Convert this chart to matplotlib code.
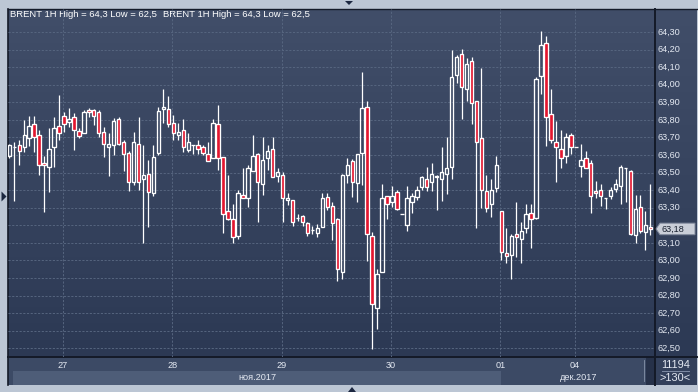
import matplotlib
matplotlib.use('Agg')
import matplotlib.pyplot as plt
import numpy as np
from matplotlib import font_manager
from matplotlib.patches import Rectangle, Polygon
from matplotlib.collections import LineCollection
from matplotlib.colors import LinearSegmentedColormap

# ---------------- data ----------------
opens = [63.594, 63.646, 63.657, 63.646, 63.695, 63.776, 63.714, 63.553, 63.530, 63.644,
         63.765, 63.822, 63.790, 63.814, 63.737, 63.723, 63.856, 63.854, 63.843, 63.733,
         63.644, 63.657, 63.803, 63.672, 63.610, 63.448, 63.661, 63.462, 63.492, 63.382,
         63.610, 63.860, 63.862, 63.780, 63.714, 63.742, 63.629, 63.657, 63.657, 63.644,
         63.606, 63.581, 63.777, 63.591, 63.281, 63.236, 63.141, 63.373, 63.354, 63.511,
         63.606, 63.433, 63.581, 63.632, 63.483, 63.486, 63.344, 63.344, 63.244, 63.253,
         63.211, 63.173, 63.158, 63.192, 63.359, 63.310, 63.234, 62.933, 63.486, 63.566,
         63.443, 63.610, 63.872, 63.141, 62.731, 62.933, 63.369, 63.331, 63.392, 63.263,
         63.202, 63.331, 63.360, 63.420, 63.462, 63.445, 63.483, 63.462, 63.490, 63.530,
         64.055, 64.174, 63.973, 64.135, 63.907, 63.695, 63.396, 63.321, 63.411, 63.281,
         63.044, 63.031, 63.151, 63.120, 63.183, 63.272, 63.240, 64.050, 64.235, 63.831,
         63.672, 63.632, 63.594, 63.714, 63.643, 63.539, 63.581, 63.552, 63.395, 63.399,
         63.357, 63.368, 63.408, 63.424, 63.524, 63.510, 63.145, 63.302, 63.160, 63.192]
highs = [63.665, 63.672, 63.684, 63.797, 63.822, 63.822, 63.742, 63.594, 63.756, 63.818,
         63.942, 63.847, 63.866, 63.837, 63.752, 63.856, 63.866, 63.860, 63.856, 63.761,
         63.723, 63.809, 63.818, 63.686, 63.623, 63.729, 63.818, 63.657, 63.572, 63.657,
         63.871, 63.974, 63.936, 63.830, 63.780, 63.803, 63.727, 63.657, 63.686, 63.657,
         63.676, 63.803, 63.885, 63.591, 63.486, 63.321, 63.401, 63.524, 63.543, 63.714,
         63.613, 63.704, 63.657, 63.704, 63.524, 63.505, 63.382, 63.344, 63.264, 63.259,
         63.221, 63.198, 63.208, 63.382, 63.382, 63.335, 63.240, 63.490, 63.581, 63.576,
         63.604, 64.071, 63.908, 63.160, 62.950, 63.435, 63.369, 63.424, 63.401, 63.263,
         63.424, 63.386, 63.424, 63.483, 63.530, 63.553, 63.486, 63.644, 63.701, 64.197,
         64.169, 64.203, 64.150, 64.155, 63.907, 64.097, 63.486, 63.464, 63.594, 63.281,
         63.183, 63.150, 63.335, 63.221, 63.320, 63.321, 64.042, 64.305, 64.277, 63.973,
         63.793, 63.742, 63.723, 63.727, 63.643, 63.662, 63.622, 63.571, 63.452, 63.434,
         63.357, 63.416, 63.461, 63.543, 63.524, 63.514, 63.372, 63.372, 63.283, 63.435]
lows = [63.585, 63.340, 63.545, 63.619, 63.653, 63.619, 63.488, 63.278, 63.391, 63.530,
        63.686, 63.733, 63.761, 63.629, 63.695, 63.723, 63.818, 63.771, 63.704, 63.591,
        63.481, 63.600, 63.657, 63.511, 63.397, 63.429, 63.401, 63.101, 63.192, 63.367,
        63.600, 63.780, 63.761, 63.686, 63.686, 63.619, 63.619, 63.606, 63.606, 63.600,
        63.568, 63.581, 63.515, 63.158, 63.230, 63.101, 63.120, 63.354, 63.302, 63.511,
        63.221, 63.373, 63.515, 63.473, 63.448, 63.221, 63.316, 63.196, 63.226, 63.198,
        63.141, 63.151, 63.132, 63.192, 63.287, 63.117, 62.880, 62.895, 63.440, 63.358,
        63.330, 63.430, 62.997, 62.496, 62.608, 62.933, 63.236, 63.306, 63.287, 63.263,
        63.170, 63.272, 63.344, 63.401, 63.397, 63.397, 63.287, 63.340, 63.378, 63.462,
        64.011, 63.803, 63.909, 63.774, 63.183, 63.297, 63.278, 63.249, 63.390, 63.000,
        62.984, 62.893, 63.022, 62.984, 63.158, 63.069, 63.236, 63.947, 63.651, 63.670,
        63.448, 63.524, 63.552, 63.604, 63.643, 63.472, 63.524, 63.272, 63.353, 63.311,
        63.290, 63.349, 63.391, 63.319, 63.330, 63.144, 63.101, 63.158, 63.059, 63.145]
closes = [63.657, 63.646, 63.621, 63.714, 63.765, 63.701, 63.541, 63.541, 63.632, 63.752,
          63.723, 63.775, 63.803, 63.742, 63.710, 63.843, 63.845, 63.822, 63.723, 63.661,
          63.661, 63.794, 63.661, 63.604, 63.445, 63.672, 63.448, 63.484, 63.391, 63.591,
          63.852, 63.875, 63.777, 63.723, 63.733, 63.644, 63.676, 63.657, 63.632, 63.610,
          63.568, 63.780, 63.581, 63.264, 63.234, 63.132, 63.382, 63.357, 63.524, 63.594,
          63.448, 63.572, 63.623, 63.473, 63.502, 63.354, 63.357, 63.221, 63.244, 63.221,
          63.158, 63.173, 63.183, 63.354, 63.306, 63.211, 62.950, 63.486, 63.543, 63.449,
          63.604, 63.866, 63.149, 62.750, 62.921, 63.354, 63.320, 63.369, 63.291, 63.263,
          63.354, 63.369, 63.401, 63.473, 63.420, 63.490, 63.473, 63.502, 63.524, 64.042,
          64.155, 63.985, 64.118, 63.894, 63.672, 63.401, 63.301, 63.401, 63.543, 63.050,
          63.025, 63.141, 63.132, 63.170, 63.264, 63.236, 64.030, 64.226, 63.818, 63.685,
          63.643, 63.581, 63.700, 63.643, 63.643, 63.571, 63.528, 63.368, 63.382, 63.368,
          63.357, 63.399, 63.433, 63.530, 63.524, 63.148, 63.290, 63.169, 63.201, 63.179]

day_labels = ['27', '28', '29', '30', '01', '04']
day_start_idx = [11, 33, 55, 77, 99, 114]
month_labels = ['ноя.2017', 'дек.2017']
price_ticks = [62.5 + 0.1 * k for k in range(19)]
title_text = 'BRENT 1H High = 64,3 Low = 62,5'
last_price = closes[-1]
bars_total = '11194'
bars_visible = '>130<'

# ---------------- fonts ----------------
names = {f.name for f in font_manager.fontManager.ttflist}
NARROW = 'Liberation Sans Narrow' if 'Liberation Sans Narrow' in names else 'Liberation Sans'
REG = 'Liberation Sans'
nsize = 7.8 if NARROW == 'Liberation Sans Narrow' else 6.6
csize = nsize * 1.2

# ---------------- colors ----------------
FRAME = '#bcc6d4'
BG_TOP = '#414e69'
BG_BOT = '#2c3954'
GRID = '#56657f'
RED = '#e3162f'
TXT = '#e4e9f2'
DARK = '#141a28'

W, H = 698, 392
fig = plt.figure(figsize=(W / 100, H / 100), dpi=100, facecolor=FRAME)

# background / decoration axes in pixel coords
bg = fig.add_axes([0, 0, 1, 1])
bg.set_xlim(0, W)
bg.set_ylim(H, 0)
bg.axis('off')

cmap = LinearSegmentedColormap.from_list('bgc', [BG_TOP, BG_BOT])
grad = np.linspace(0, 1, 256).reshape(-1, 1)
bg.imshow(grad, cmap=cmap, extent=[8, 697, 357, 9], aspect='auto', origin='upper', zorder=0)

# date strip
bg.add_patch(Rectangle((8, 357), 647, 27.5, facecolor='#3c4a65', edgecolor='none', zorder=1))
bg.add_patch(Rectangle((13, 371), 488, 13.5, facecolor='#4e5d78', edgecolor='none', zorder=1))
bg.add_patch(Rectangle((645.5, 357), 9.5, 27.5, facecolor='#263149', edgecolor='none', zorder=1))
bg.add_patch(Rectangle((655, 357), 42, 27.5, facecolor='#33405b', edgecolor='none', zorder=1))
bg.plot([644.3, 644.3], [360, 381], color='#8592a8', lw=0.6, zorder=2)

# borders
bg.plot([7.5, 7.5], [9, 384.5], color=DARK, lw=1.2, zorder=3)
bg.plot([7.5, 697], [9, 9], color=DARK, lw=1.0, zorder=3)
bg.plot([7.5, 697], [357.3, 357.3], color=DARK, lw=1.4, zorder=3)
bg.plot([655.3, 655.3], [9, 384.5], color=DARK, lw=1.4, zorder=3)

# small triangles
tri_col = '#1c2740'
bg.add_patch(Polygon([[345, 1], [353, 1], [349, 5]], closed=True, facecolor=tri_col, edgecolor='none'))
bg.add_patch(Polygon([[348, 392], [356, 392], [352, 387]], closed=True, facecolor=tri_col, edgecolor='none'))
bg.add_patch(Polygon([[1.5, 191.5], [1.5, 201.5], [6.5, 196.5]], closed=True, facecolor=tri_col, edgecolor='none'))

# header texts
bg.text(10, 14.5, title_text, color='white', fontsize=6.8, family=REG, va='center', ha='left', zorder=4)
bg.text(163, 14.5, title_text, color='white', fontsize=6.8, family=REG, va='center', ha='left', zorder=4)

# bottom right counters
bg.text(675.5, 364.5, bars_total, color=TXT, fontsize=csize, family=NARROW, va='center', ha='center', zorder=4)
bg.plot([662, 689], [371, 371], color='#7f8ca5', lw=0.7, zorder=4)
bg.text(675.5, 378, bars_visible, color=TXT, fontsize=csize, family=NARROW, va='center', ha='center', zorder=4)

# ---------------- main price axes ----------------
ax = fig.add_axes([8 / W, (H - 357) / H, 647 / W, 348 / H])
ax.set_zorder(2)
ax.patch.set_visible(False)
XMIN, XMAX = -0.26, 129.92
YMIN, YMAX = 62.450, 64.431
ax.set_xlim(XMIN, XMAX)
ax.set_ylim(YMIN, YMAX)
for s in ax.spines.values():
    s.set_visible(False)
ax.set_xticks([])
ax.set_yticks([])

# grid
for p in price_ticks:
    ax.axhline(p, color=GRID, lw=0.7, ls=(0, (2.2, 1.6)), zorder=1)
for d in day_start_idx:
    ax.axvline(d - 0.2, color=GRID, lw=0.7, ls=(0, (2.2, 1.6)), zorder=1)

# candles
n = len(opens)
bw = 0.68
segs = []
for i in range(n):
    o, h, l, c = opens[i], highs[i], lows[i], closes[i]
    top, bot = max(o, c), min(o, c)
    if h > top:
        segs.append([(i, top), (i, h)])
    if l < bot:
        segs.append([(i, l), (i, bot)])
ax.add_collection(LineCollection(segs, colors='white', linewidths=0.9, zorder=3))
for i in range(n):
    o, c = opens[i], closes[i]
    top, bot = max(o, c), min(o, c)
    fc = RED if c < o else 'none'
    ax.add_patch(Rectangle((i - bw / 2, bot), bw, top - bot, facecolor=fc,
                           edgecolor='white', lw=0.95, zorder=4))

# price labels on the right (the one hidden behind the last-price marker is skipped)
ytr = ax.get_yaxis_transform()
for p in price_ticks:
    if abs(p - last_price) < 0.045:
        continue
    ax.text(1 + 3 / 647, p, f'{p:.2f}'.replace('.', ','), transform=ytr, color=TXT,
            fontsize=nsize, family=NARROW, va='center', ha='left', clip_on=False, zorder=5)

# day labels and month labels
xtr = ax.get_xaxis_transform()
for lab, d in zip(day_labels, day_start_idx):
    ax.text(d - 0.2, -8.5 / 348, lab, transform=xtr, color=TXT, fontsize=nsize,
            family=NARROW, va='center', ha='center', clip_on=False, zorder=5)
ax.text(50.0, -20.5 / 348, month_labels[0], transform=xtr, color=TXT, fontsize=nsize,
        family=NARROW, va='center', ha='center', clip_on=False, zorder=5)
ax.text(114.6, -20.5 / 348, month_labels[1], transform=xtr, color=TXT, fontsize=nsize,
        family=NARROW, va='center', ha='center', clip_on=False, zorder=5)

# last price marker
ly = 9 + (YMAX - last_price) / (YMAX - YMIN) * 348
top_ax = fig.add_axes([0, 0, 1, 1])
top_ax.set_zorder(3)
top_ax.patch.set_visible(False)
top_ax.set_xlim(0, W)
top_ax.set_ylim(H, 0)
top_ax.axis('off')
top_ax.add_patch(Polygon([[656, ly], [660, ly - 5.8], [695, ly - 5.8], [695, ly + 5.8], [660, ly + 5.8]],
                         closed=True, facecolor='#c9ced8', edgecolor='#7d8699', lw=0.7, zorder=6))
top_ax.text(661, ly + 0.3, f'{last_price:.2f}'.replace('.', ','), color='#18202f', fontsize=nsize,
            family=NARROW, va='center', ha='left', zorder=7)

fig.savefig('out.png', dpi=100, facecolor=FRAME)
